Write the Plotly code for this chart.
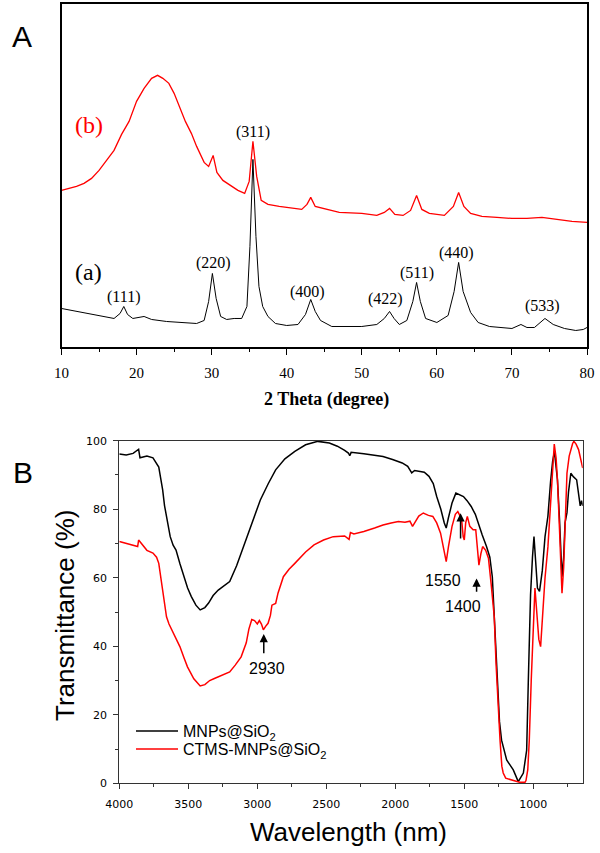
import plotly.graph_objects as go

# ---------------- Panel A: XRD ----------------
xrd_two_theta_a = [10, 12, 14, 16, 17, 17.8, 18.3, 18.8, 19.5, 21, 22, 24, 26, 28, 29, 29.6, 30.1, 30.6, 31.2,
                   32, 33, 34, 34.7, 35.1, 35.5, 35.9, 36.3, 36.8, 37.5, 38.5, 40, 41.5, 42.5, 43.2, 43.8,
                   44.5, 46, 48, 50, 52, 53, 53.7, 54.3, 55, 56, 56.8, 57.3, 57.8, 58.5, 60, 61.5, 62.3,
                   62.9, 63.5, 64.5, 65.5, 67, 70, 71.2, 72, 73, 74.4, 75.5, 77, 78.5, 79.5, 80]
xrd_intensity_a = [38, 35, 32, 29, 28, 33, 40, 32, 28, 30, 27, 25, 24, 23, 26, 45, 73, 48, 30,
                   27, 28, 28, 40, 100, 187, 110, 60, 40, 30, 23, 21, 22, 32, 47, 35,
                   26, 20, 20, 20, 22, 28, 35, 28, 22, 26, 45, 64, 45, 28, 24, 31, 55,
                   84, 55, 34, 24, 20, 18, 22, 19, 19, 28, 22, 18, 16, 17, 19]

xrd_two_theta_b = [10, 11, 12, 13, 14, 15, 16, 17, 18, 19, 20, 21, 22, 22.8, 23.5, 24.3, 25, 25.8, 26.5,
                   27.3, 28, 29, 29.6, 30.2, 30.7, 31.5, 32.5, 33.5, 34.4, 35, 35.5, 36, 36.6, 37.5,
                   39, 40, 42, 42.7, 43.2, 43.8, 45, 47, 50, 52, 53, 53.7, 54.4, 55.5, 56.5, 57.3, 58,
                   59, 61, 62.2, 62.9, 63.6, 64.5, 66, 68, 70, 72, 74, 76, 78, 80]
xrd_intensity_b = [156, 158, 160, 163, 168, 176, 186, 196, 212, 225, 245, 258, 268, 271, 268, 263, 253, 239, 225,
                   213, 200, 184, 180, 191, 174, 166, 161, 156, 153, 165, 205, 170, 146, 142,
                   140, 139, 137, 142, 149, 140, 138, 134, 133, 131, 134, 138, 132, 131, 136, 151, 137,
                   133, 131, 140, 154, 140, 133, 130, 129, 128, 128, 129, 127, 125, 124]

miller_labels = ["(111)", "(220)", "(311)", "(400)", "(422)", "(511)", "(440)", "(533)"]
miller_x = [18.2, 30.2, 35.5, 42.8, 53.2, 57.3, 62.6, 74.1]
miller_y = [49, 83, 214, 54, 47, 73, 93, 40]

# ---------------- Panel B: FTIR ----------------
ftir_wn_mnps = [4000, 3950, 3900, 3860, 3850, 3800, 3756, 3730, 3714, 3700, 3686, 3672, 3658, 3645, 3631,
                3610, 3589, 3560, 3533, 3505, 3478, 3445, 3414, 3380, 3353, 3320, 3283, 3240, 3200, 3150,
                3089, 3030, 2978, 2920, 2867, 2800, 2728, 2650, 2561, 2478, 2420, 2367, 2340, 2330, 2320,
                2228, 2150, 2089, 2020, 1950, 1910, 1881, 1860, 1825, 1790, 1756, 1725, 1700, 1670, 1645,
                1631, 1615, 1600, 1589, 1561, 1530, 1506, 1480, 1450, 1420, 1394, 1370, 1339, 1315, 1297,
                1283, 1270, 1256, 1245, 1230, 1210, 1193, 1145, 1109, 1072, 1048, 1036, 1020, 1006, 995,
                985, 970, 955, 935, 915, 894, 875, 860, 847, 835, 825, 810, 800, 792, 780, 770, 756, 745,
                728, 710, 686, 670, 660, 650, 642]
ftir_t_mnps = [96.1, 95.8, 96.3, 97.5, 95, 95.5, 95, 93.5, 92.3, 89, 85.7, 81, 77.9, 74.5, 72,
               69.5, 68.1, 64, 60.3, 57, 54.5, 52, 50.6, 51.3, 52.6, 54.8, 56.4, 57.8, 58.9, 63.5,
               70.2, 76.5, 82.7, 87.5, 91.5, 94.7, 96.9, 98.8, 99.8, 99.3, 98.4, 97.2, 96.4, 95.6, 96.6,
               96.2, 95.8, 95.4, 94.5, 93.5, 92.5, 90.6, 91.3, 91, 90.8, 89.6, 87.5, 83.7, 80, 76,
               74.5, 77.5, 80.5, 81.8, 84.7, 84, 83.7, 82.5, 80.8, 78.5, 75, 72.5, 69.1, 66, 60.3,
               50, 40, 28, 18, 12.6, 9, 6.8, 3.9, 0.5, 3, 9.7, 30, 55, 66, 72,
               66, 57, 56, 62, 72, 78, 88, 94, 96.8, 93, 88.6, 77, 65, 60.3, 66, 76, 79, 85,
               90.5, 89.5, 88.6, 84, 81, 82.5, 81]

ftir_wn_ctms = [4000, 3950, 3900, 3867, 3860, 3800, 3756, 3730, 3714, 3700, 3686, 3672, 3658, 3640, 3617,
                3590, 3561, 3530, 3506, 3460, 3414, 3380, 3345, 3311, 3260, 3200, 3160, 3117, 3080, 3061,
                3040, 3020, 3000, 2985, 2970, 2956, 2940, 2922, 2905, 2894, 2867, 2850, 2811, 2770, 2728,
                2650, 2589, 2520, 2450, 2367, 2335, 2325, 2300, 2228, 2150, 2089, 2030, 1978, 1930, 1894,
                1875, 1860, 1830, 1797, 1760, 1728, 1700, 1672, 1650, 1631, 1615, 1600, 1589, 1565, 1547,
                1530, 1519, 1508, 1500, 1490, 1478, 1460, 1436, 1417, 1405, 1394, 1380, 1367, 1345, 1325,
                1305, 1283, 1270, 1256, 1241, 1228, 1218, 1200, 1150, 1100, 1060, 1053, 1040, 1029, 1015,
                1000, 988, 975, 960, 947, 935, 915, 894, 875, 860, 848, 835, 825, 810, 800, 792, 780, 770,
                756, 740, 728, 715, 706, 690, 672, 660, 650, 642]
ftir_t_ctms = [70.6, 70, 69.5, 69.1, 71, 68, 67.2, 66, 64.2, 60, 56.4, 52, 48.6, 46.5, 44.7,
               42.5, 39.9, 36.5, 34, 30.5, 28.4, 28.8, 30, 30.6, 31.5, 32.5, 34.5, 36.9, 41, 45,
               47.8, 47.5, 46.5, 47.5, 46.5, 44.8, 45.8, 46.7, 49, 52, 52.5, 55.5, 60.3, 62.5, 64.2,
               67.5, 69.6, 71, 72, 72.2, 71.2, 73.2, 72.8, 73.5, 74.5, 75.4, 76, 76.4, 76.2, 76.5,
               75, 76, 78, 78.9, 78.2, 77.9, 76, 73, 68, 64.7, 69, 73, 75, 78.5, 79.3,
               78, 76.8, 72, 71, 76, 77.9, 75, 74, 74, 67, 63.7, 67, 69.1, 68, 65.7,
               58, 48.6, 35, 22.3, 12.6, 5, 3, 1.5, 0.8, 0.3, 0.3, 0.8, 4, 12.6, 30,
               48, 57, 50, 42, 39.9, 47, 60, 69, 82, 93, 99, 95, 88.6, 74, 60, 55.5, 63, 77,
               90.5, 95.5, 97.4, 99.2, 99.8, 99, 97.4, 95.5, 93.5, 92]

series_names = ["MNPs@SiO<sub>2</sub>", "CTMS-MNPs@SiO<sub>2</sub>"]

band_labels = ["1550", "1400", "2930"]
band_wn = [1527, 1411, 2953]
band_head = [78.8, 59.8, 43.6]
band_tail = [71.0, 55.5, 37.5]
band_text_wn = [1651, 1513, 2931]
band_text_t = [59.3, 51.5, 33.6]

fig = go.Figure()

fig.add_trace(go.Scatter(x=xrd_two_theta_b, y=xrd_intensity_b, mode="lines",
                         line=dict(color="#ff0000", width=1.3), showlegend=False,
                         xaxis="x", yaxis="y"))
fig.add_trace(go.Scatter(x=xrd_two_theta_a, y=xrd_intensity_a, mode="lines",
                         line=dict(color="black", width=1), showlegend=False,
                         xaxis="x", yaxis="y"))

fig.add_trace(go.Scatter(x=ftir_wn_mnps, y=ftir_t_mnps, mode="lines", name=series_names[0],
                         line=dict(color="black", width=1.5), xaxis="x2", yaxis="y2",
                         legend="legend"))
fig.add_trace(go.Scatter(x=ftir_wn_ctms, y=ftir_t_ctms, mode="lines", name=series_names[1],
                         line=dict(color="#ff0000", width=1.5), xaxis="x2", yaxis="y2",
                         legend="legend2"))


def paper_text(px, py, text, size, family, color="black", angle=0):
    return dict(x=px / 600, y=1 - py / 853, xref="paper", yref="paper", text=text,
                xanchor="center", yanchor="middle", textangle=angle, showarrow=False,
                font=dict(family=family, size=size, color=color))


annotations = []
for lab, xx, yy in zip(miller_labels, miller_x, miller_y):
    annotations.append(dict(x=xx, y=yy, xref="x", yref="y", text=lab, showarrow=False,
                            xanchor="center", yanchor="middle",
                            font=dict(family="Liberation Serif", size=16, color="black")))
annotations.append(paper_text(88, 272, "(a)", 24, "Liberation Serif"))
annotations.append(paper_text(88.5, 125, "(b)", 24, "Liberation Serif", "#ff0000"))

for lab, w, h, t, tw, tt in zip(band_labels, band_wn, band_head, band_tail, band_text_wn, band_text_t):
    annotations.append(dict(x=w, y=h, xref="x2", yref="y2", ax=w, ay=t, axref="x2", ayref="y2",
                            text="", showarrow=True, arrowhead=2, arrowsize=1.1, arrowwidth=1.5,
                            arrowcolor="black"))
    annotations.append(dict(x=tw, y=tt, xref="x2", yref="y2", text=lab, showarrow=False,
                            xanchor="center", yanchor="middle",
                            font=dict(family="Liberation Sans", size=16, color="black")))

annotations += [
    paper_text(22, 36, "A", 30, "Liberation Sans"),
    paper_text(23, 472, "B", 30, "Liberation Sans"),
    paper_text(326, 399, "<b>2 Theta (degree)</b>", 18, "Liberation Serif"),
    paper_text(348, 832, "Wavelength (nm)", 26, "Liberation Sans"),
    paper_text(65, 616, "Transmittance (%)", 26, "Liberation Sans", angle=-90),
]

legend_style = dict(xanchor="left", yanchor="top", bgcolor="rgba(0,0,0,0)", borderwidth=0,
                    itemwidth=42, font=dict(family="Liberation Sans", size=16, color="black"))

fig.update_layout(
    width=600, height=853,
    margin=dict(l=0, r=0, t=0, b=0, pad=0, autoexpand=False),
    paper_bgcolor="white", plot_bgcolor="white",
    xaxis=dict(domain=[61.5 / 600, 587 / 600], anchor="y", range=[10, 80], dtick=10,
               showline=True, linecolor="black", linewidth=1.5, mirror=True,
               ticks="outside", ticklen=7, tickwidth=1, tickcolor="black",
               minor=dict(dtick=5, ticks="outside", ticklen=4, tickcolor="black"),
               showgrid=False, zeroline=False, ticklabelstandoff=5, automargin=False,
               tickfont=dict(family="Liberation Serif", size=15, color="black")),
    yaxis=dict(domain=[1 - 346.5 / 853, 1 - 4.3 / 853], anchor="x", range=[0, 342],
               visible=True, showline=True, linecolor="black", linewidth=1.5, mirror=True,
               showticklabels=False, ticks="", showgrid=False, zeroline=False, automargin=False),
    xaxis2=dict(domain=[119.3 / 600, 582.7 / 600], anchor="y2", range=[4000, 642],
                tickvals=[4000, 3500, 3000, 2500, 2000, 1500, 1000],
                showline=True, linecolor="#333333", linewidth=1.3, mirror=True,
                ticks="outside", ticklen=5, tickwidth=1, tickcolor="#333333",
                minor=dict(tickvals=[3750, 3250, 2750, 2250, 1750, 1250, 750], ticks="outside",
                           ticklen=3, tickcolor="#333333"),
                showgrid=False, zeroline=False, ticklabelstandoff=5, automargin=False,
                tickfont=dict(family="DejaVu Sans", size=11, color="black")),
    yaxis2=dict(domain=[1 - 783.3 / 853, 1 - 440.7 / 853], anchor="x2", range=[0, 100],
                dtick=20, showline=True, linecolor="#333333", linewidth=1.3, mirror=True,
                ticks="outside", ticklen=5, tickwidth=1, tickcolor="#333333",
                minor=dict(dtick=10, ticks="outside", ticklen=3, tickcolor="#333333"),
                showgrid=False, zeroline=False, ticklabelstandoff=4, automargin=False,
                tickfont=dict(family="DejaVu Sans", size=11, color="black")),
    legend=dict(x=131 / 600, y=1 - 714 / 853, **legend_style),
    legend2=dict(x=131 / 600, y=1 - 732 / 853, **legend_style),
    annotations=annotations,
)

fig.write_html("out.html", config={"displayModeBar": False},
               post_script="document.body.style.margin='0';document.body.style.overflow='hidden';")
